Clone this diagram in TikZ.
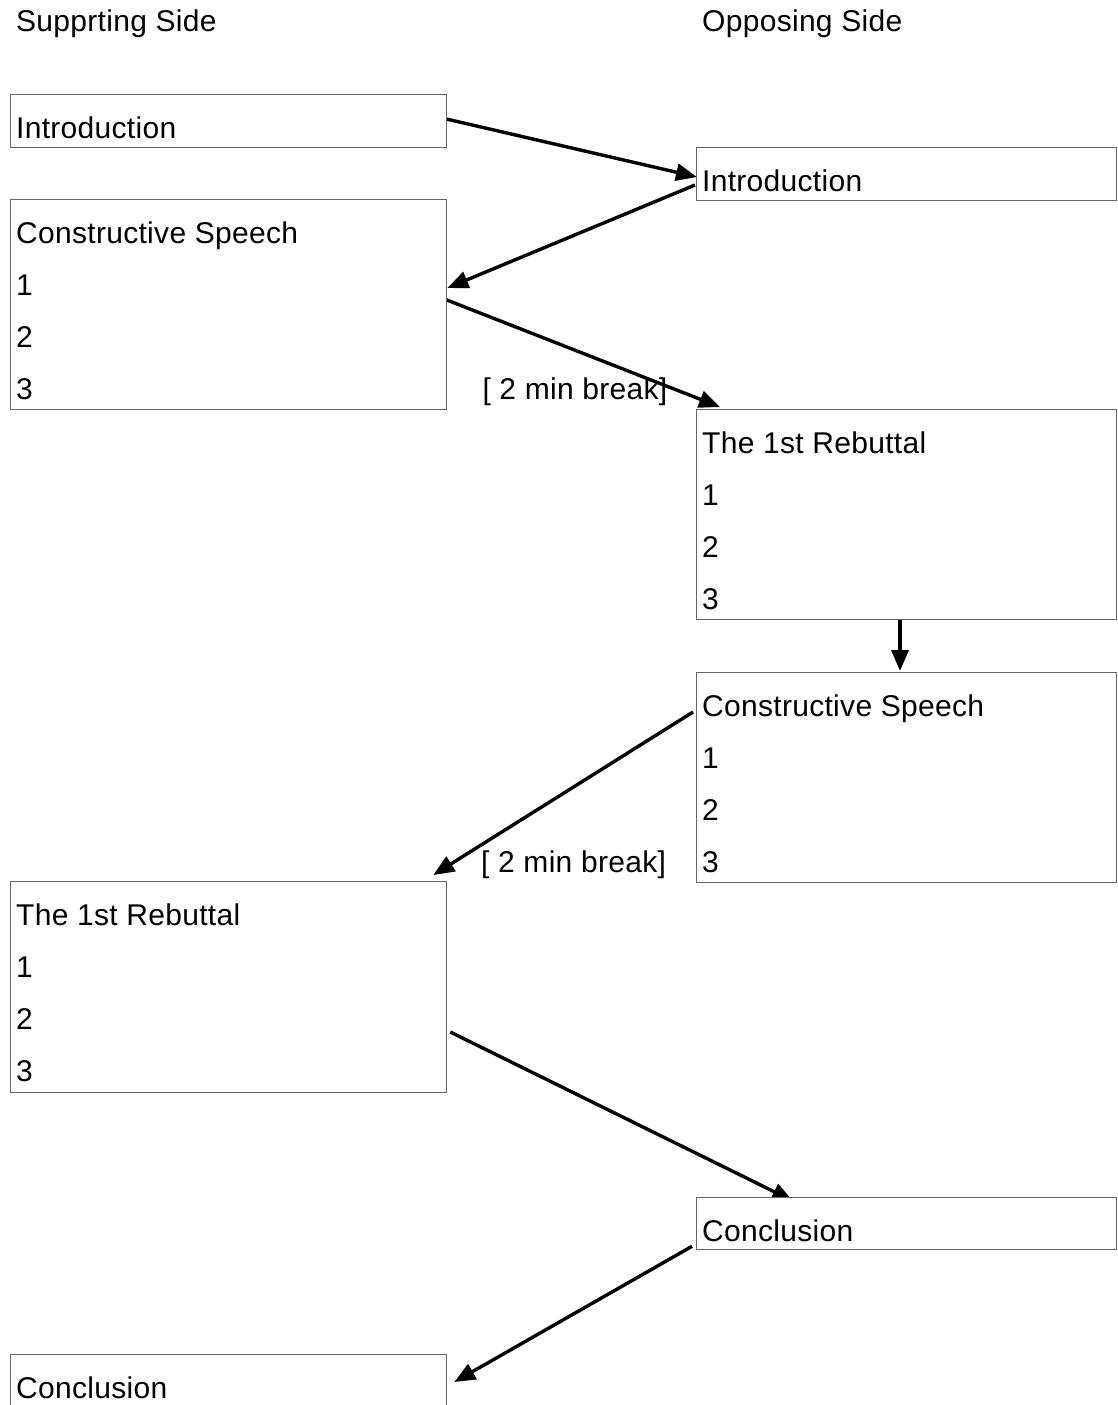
\documentclass[tikz,border=0pt]{standalone}
\usepackage{fontspec}
\setmainfont{Liberation Sans}[LetterSpace=1]
\usetikzlibrary{calc,arrows.meta,backgrounds}
\definecolor{boxgray}{HTML}{666666}
\begin{document}
\begin{tikzpicture}[x=1pt,y=-1pt,
  box/.style={draw=boxgray, line width=1.3pt, fill=white, inner sep=0pt, anchor=north west},
  lbox/.style={box, minimum width=436pt},
  rbox/.style={box, minimum width=420pt},
  txt/.style={inner sep=0pt, anchor=base west, font=\fontsize{30}{36}\selectfont},
  conn/.style={line width=3.4pt, -{Triangle[length=21pt,width=17pt]}}]
\useasboundingbox (0,0) rectangle (1117,1405);

% boxes
\node[lbox, minimum height=53pt]  (introL) at (10,94) {};
\node[rbox, minimum height=53pt]  (introR) at (696,147) {};
\node[lbox, minimum height=210pt] (consL)  at (10,199) {};
\node[rbox, minimum height=210pt] (rebR)   at (696,409) {};
\node[rbox, minimum height=210pt] (consR)  at (696,672) {};
\node[lbox, minimum height=211pt] (rebL)   at (10,881) {};
\node[rbox, minimum height=52pt]  (concR)  at (696,1197) {};
\node[lbox, minimum height=56pt]  (concL)  at (10,1354) {};

% headers
\node[txt] (hS) at (16,32) {Supprting Side};
\node[txt] (hO) at (702,32) {Opposing Side};

% texts
\node[txt] (introLt) at ($(introL.north west)+(6,44.5)$) {Introduction};
\node[txt] (introRt) at ($(introR.north west)+(6,44.5)$) {Introduction};

\node[txt] (consLt) at ($(consL.north west)+(6,44.5)$) {Constructive Speech};
\node[txt] (consL1) at ($(consL.north west)+(6,96.5)$) {1};
\node[txt] (consL2) at ($(consL.north west)+(6,148.5)$) {2};
\node[txt] (consL3) at ($(consL.north west)+(6,200.5)$) {3};

\node[txt] (rebRt) at ($(rebR.north west)+(6,44.5)$) {The 1st Rebuttal};
\node[txt] (rebR1) at ($(rebR.north west)+(6,96.5)$) {1};
\node[txt] (rebR2) at ($(rebR.north west)+(6,148.5)$) {2};
\node[txt] (rebR3) at ($(rebR.north west)+(6,200.5)$) {3};

\node[txt] (consRt) at ($(consR.north west)+(6,44.5)$) {Constructive Speech};
\node[txt] (consR1) at ($(consR.north west)+(6,96.5)$) {1};
\node[txt] (consR2) at ($(consR.north west)+(6,148.5)$) {2};
\node[txt] (consR3) at ($(consR.north west)+(6,200.5)$) {3};

\node[txt] (rebLt) at ($(rebL.north west)+(6,44.5)$) {The 1st Rebuttal};
\node[txt] (rebL1) at ($(rebL.north west)+(6,96.5)$) {1};
\node[txt] (rebL2) at ($(rebL.north west)+(6,148.5)$) {2};
\node[txt] (rebL3) at ($(rebL.north west)+(6,200.5)$) {3};

\node[txt] (concRt) at ($(concR.north west)+(6,44.5)$) {Conclusion};
\node[txt] (concLt) at ($(concL.north west)+(6,44.5)$) {Conclusion};

% break labels
\node[txt] (brk1) at ($(consL.north east)+(35,200.5)$) {[ 2 min break]};
\node[txt] (brk2) at ($(consR.north west)+(-215,200.5)$) {[ 2 min break]};

% connector end points
\coordinate (a1s) at ($(introL.north east)+(-1,25)$);
\coordinate (a1e) at ($(introR.north west)+(1,30)$);
\coordinate (a2s) at ($(introR.north west)+(-1,38)$);
\coordinate (a2e) at ($(consL.north east)+(0,89)$);
\coordinate (a3s) at ($(consL.north east)+(-3,100)$);
\coordinate (a3e) at ($(rebR.north west)+(24,-2)$);
\coordinate (a4s) at ($(rebR.south west)+(204,-2)$);
\coordinate (a4e) at ($(consR.north west)+(204,-1)$);
\coordinate (a5s) at ($(consR.north west)+(-3,40)$);
\coordinate (a5e) at ($(rebL.north east)+(-14,-6)$);
\coordinate (a6s) at ($(rebL.north east)+(3,151)$);
\coordinate (a6e) at ($(concR.north west)+(97,4)$);
\coordinate (a7s) at ($(concR.south west)+(-4,-4)$);
\coordinate (a7e) at ($(concL.north east)+(7,28)$);

\begin{pgfonlayer}{background}
\draw[conn] (a1s) -- (a1e);
\draw[conn] (a2s) -- (a2e);
\draw[conn] (a3s) -- (a3e);
\draw[conn] (a4s) -- (a4e);
\draw[conn] (a5s) -- (a5e);
\draw[conn] (a6s) -- (a6e);
\draw[conn] (a7s) -- (a7e);
\end{pgfonlayer}
\end{tikzpicture}
\end{document}
